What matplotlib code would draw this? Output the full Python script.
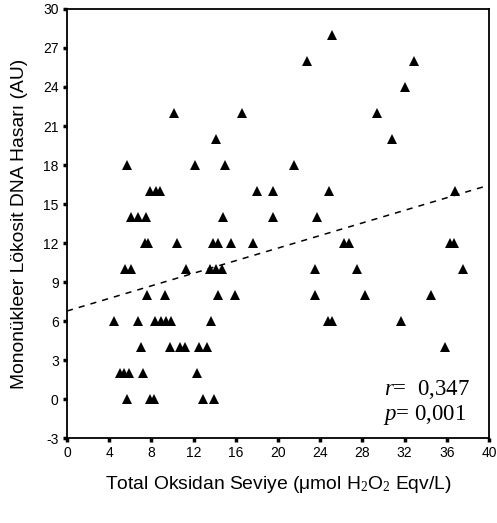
import matplotlib.pyplot as plt
import numpy as np

plt.rcParams["mathtext.fontset"] = "custom"
plt.rcParams["mathtext.rm"] = "Liberation Serif"
plt.rcParams["mathtext.it"] = "Liberation Serif:italic"
plt.rcParams["axes.unicode_minus"] = False

# oxidant level (x) and DNA damage score (y)
tos = [25.1, 22.7, 32.9, 32.0,
       10.1, 16.6, 29.4,
       14.1, 30.8,
       5.65, 12.1, 15.0, 21.5,
       7.9, 8.4, 8.8, 18.0, 19.5, 24.8, 36.8,
       6.07, 6.76, 7.46, 14.8, 19.5, 23.7,
       7.4, 7.7, 10.4, 13.8, 14.3, 15.5, 17.6, 26.3, 26.7, 36.3, 36.7,
       5.5, 6.1, 11.3, 13.6, 14.1, 14.7, 23.5, 27.5, 37.5,
       7.6, 9.3, 14.3, 15.9, 23.5, 28.2, 34.5,
       4.45, 6.76, 8.3, 8.9, 9.4, 9.9, 13.65, 24.7, 25.1, 31.7,
       7.0, 9.8, 10.7, 11.2, 12.5, 13.3, 35.8,
       5.0, 5.4, 5.9, 7.2, 12.3,
       5.7, 7.9, 8.25, 12.9, 13.9]
dna = [28, 26, 26, 24,
       22, 22, 22,
       20, 20,
       18, 18, 18, 18,
       16, 16, 16, 16, 16, 16, 16,
       14, 14, 14, 14, 14, 14,
       12, 12, 12, 12, 12, 12, 12, 12, 12, 12, 12,
       10, 10, 10, 10, 10, 10, 10, 10, 10,
       8, 8, 8, 8, 8, 8, 8,
       6, 6, 6, 6, 6, 6, 6, 6, 6, 6,
       4, 4, 4, 4, 4, 4, 4,
       2, 2, 2, 2, 2,
       0, 0, 0, 0, 0]

# fitted line as printed on the chart
fit_intercept = 6.77
fit_slope = 0.242

x_ticks = list(range(0, 41, 4))
y_ticks = list(range(-3, 31, 3))

fig = plt.figure(figsize=(4.97, 5.23), dpi=100)
ax = fig.add_axes([0.1348, 0.1625, 0.8492, 0.8203])

ax.plot(tos, dna, linestyle="none", marker="^", markersize=7,
        color="black", markeredgewidth=0)

xs = np.array([0, 40])
ax.plot(xs, fit_intercept + fit_slope * xs, linestyle=(0, (4, 4)),
        color="black", linewidth=1.1)

ax.set_xlim(0, 40)
ax.set_ylim(-3, 30)
ax.set_xticks(x_ticks)
ax.set_yticks(y_ticks)
ax.tick_params(direction="out", length=3, width=2.5, labelsize=10, pad=3)
for sp in ax.spines.values():
    sp.set_linewidth(1.3)

ax.set_xlabel("Total Oksidan Seviye (μmol H$_2$O$_2$ Eqv/L)",
              fontsize=13.9, fontfamily="Liberation Sans", labelpad=10)
ax.set_ylabel("Mononükleer Lökosit DNA Hasarı (AU)",
              fontsize=13.9, fontfamily="Liberation Sans", labelpad=11)
for lab in ax.get_xticklabels() + ax.get_yticklabels():
    lab.set_fontfamily("Liberation Sans")

ax.text(0.955, 0.100, "$\\it{r}$=  0,347", transform=ax.transAxes,
        ha="right", va="baseline", fontsize=16.5, fontfamily="Liberation Serif")
ax.text(0.946, 0.042, "$\\it{p}$= 0,001", transform=ax.transAxes,
        ha="right", va="baseline", fontsize=16.5, fontfamily="Liberation Serif")

fig.savefig("out.png", dpi=100)
